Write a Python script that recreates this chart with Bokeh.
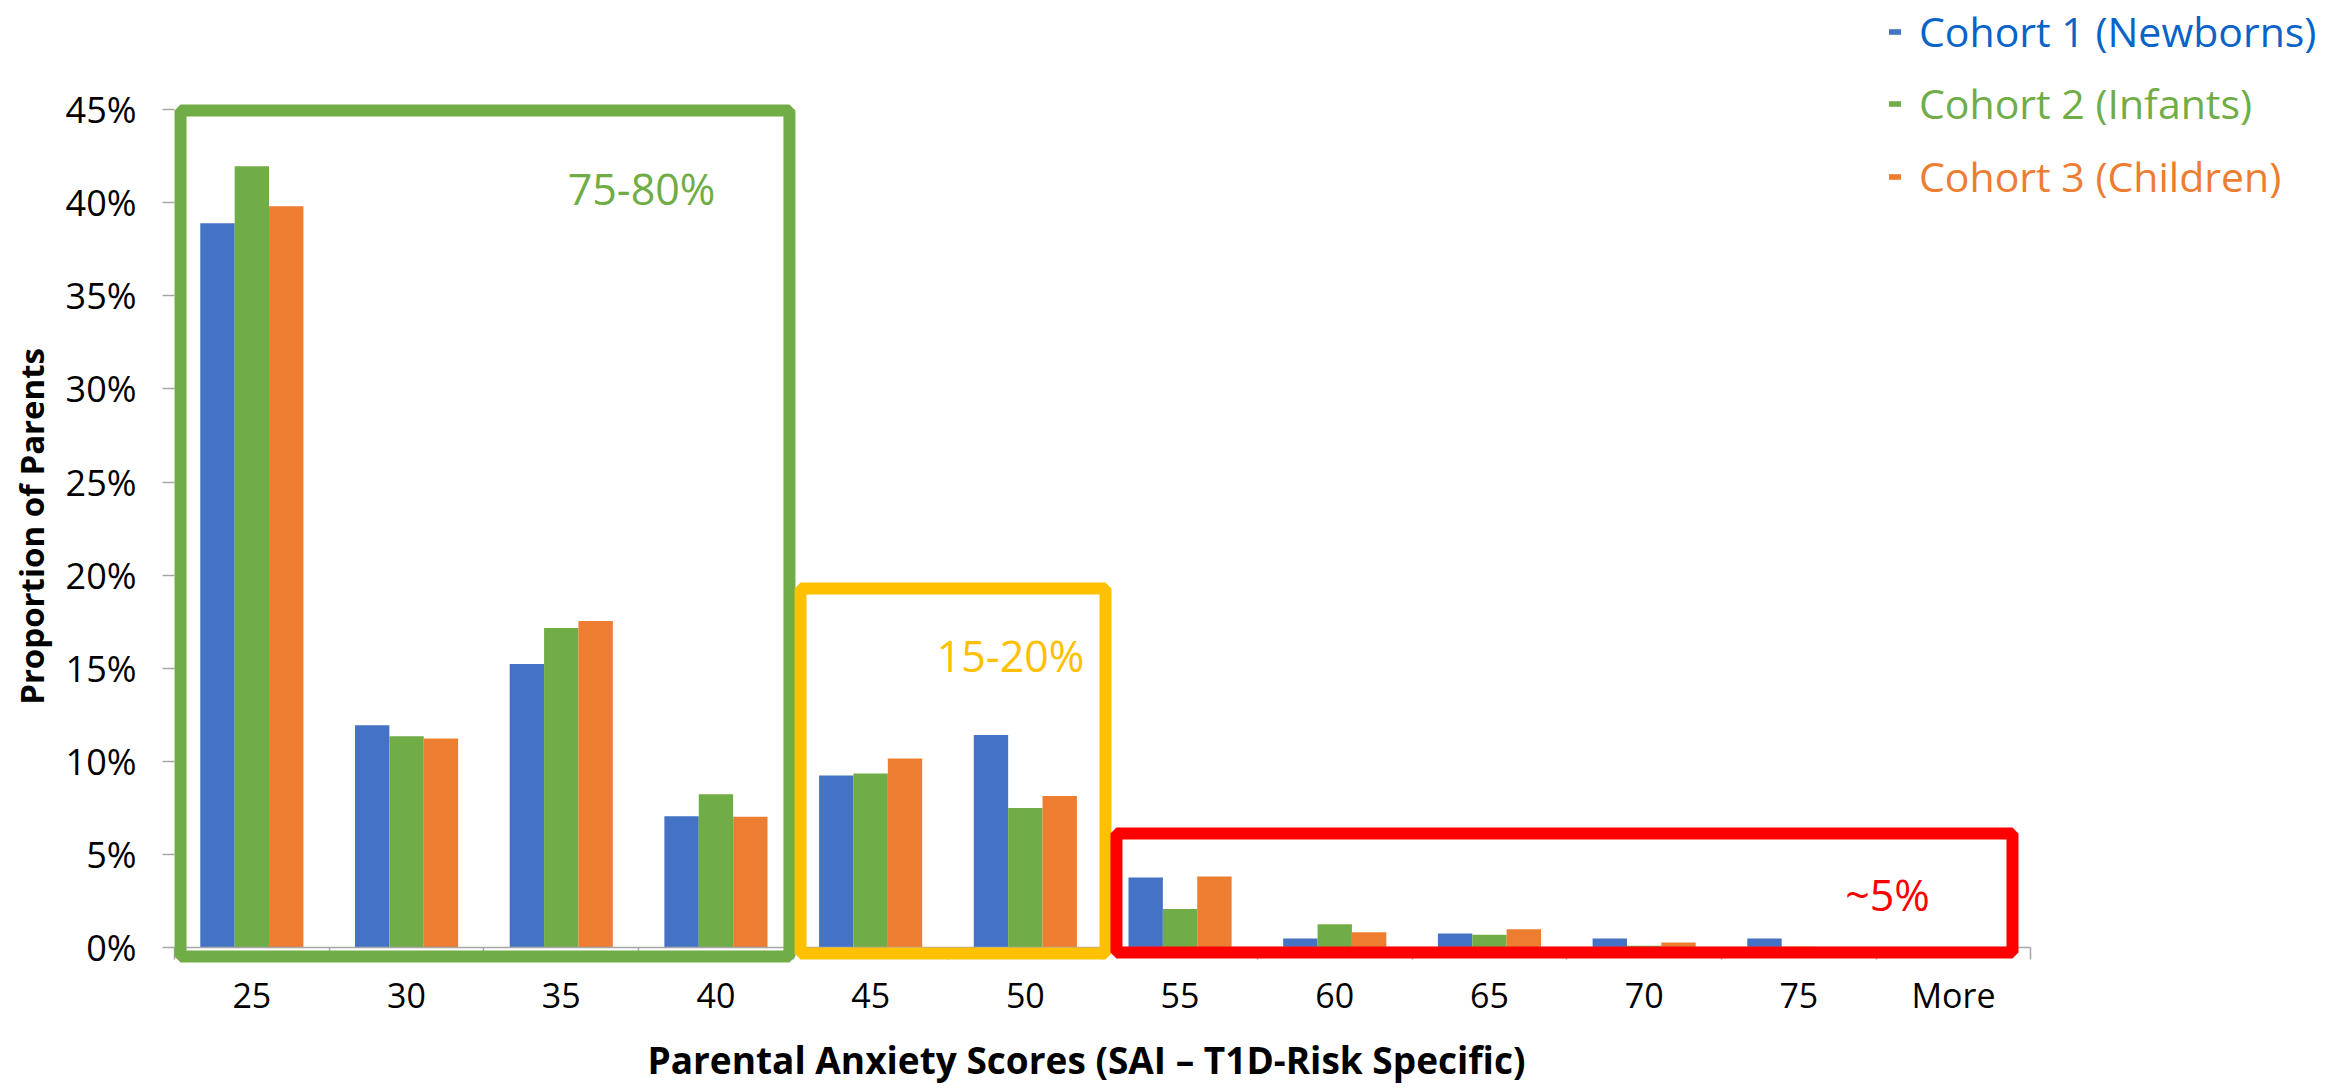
import math
from bokeh.plotting import figure
from bokeh.models import (Range1d, FixedTicker, NumeralTickFormatter, BoxAnnotation,
                          Label, Legend, LegendItem, ColumnDataSource)
from bokeh.transform import dodge
from bokeh.embed import file_html
from bokeh.resources import INLINE

# ---------------- data ----------------
categories = ["25", "30", "35", "40", "45", "50", "55", "60", "65", "70", "75", "More"]
cohort1 = [0.389, 0.1195, 0.1523, 0.0706, 0.0925, 0.1142, 0.0378, 0.0050, 0.0077, 0.0050, 0.0050, 0.0]
cohort2 = [0.4196, 0.1136, 0.1717, 0.0824, 0.0935, 0.0751, 0.0208, 0.0127, 0.0070, 0.0011, 0.0005, 0.0]
cohort3 = [0.3980, 0.1124, 0.1754, 0.0703, 0.1016, 0.0815, 0.0383, 0.0084, 0.0100, 0.0029, 0.0, 0.0]
series_names = ["Cohort 1 (Newborns)", "Cohort 2 (Infants)", "Cohort 3 (Children)"]
y_ticks = [0.0, 0.05, 0.10, 0.15, 0.20, 0.25, 0.30, 0.35, 0.40, 0.45]
zone_texts = ["75-80%", "15-20%", "~5%"]

# ---------------- layout / styles ----------------
W, H = 2343, 1088
AX_LEFT_PX, AX_ZERO_PX = 174.0, 947.3      # where the category axis starts / where 0% sits
CAT_PX, UNIT_PX = 154.7, 1862.9           # pixels per category, pixels per 100%
x_start = 0.5 - AX_LEFT_PX / CAT_PX
x_end = 0.5 + (W - AX_LEFT_PX) / CAT_PX
y_end = AX_ZERO_PX / UNIT_PX
y_start = -(H - AX_ZERO_PX) / UNIT_PX

bar_colors = ["#4472C4", "#70AD47", "#ED7D31"]
legend_text_colors = ["#0A64C8", "#70AD47", "#ED7D31"]
zone_colors = ["#70AD47", "#FFC000", "#FF0000"]
# zone frames: (x-start, x-end, y-bottom, y-top) in data units, and text anchors
zone_boxes = [(0.539, 4.475, -0.0047, 0.4494),
              (4.547, 6.518, -0.0031, 0.1929),
              (6.589, 12.381, -0.0025, 0.0614)]
zone_text_pos = [(3.519, 0.4076), (5.904, 0.1569), (11.573, 0.0285)]
FONT = "Open Sans"

positions = list(range(1, len(categories) + 1))
source = ColumnDataSource(dict(x=positions, c1=cohort1, c2=cohort2, c3=cohort3))

p = figure(width=W, height=H,
           x_range=Range1d(x_start, x_end), y_range=Range1d(y_start, y_end),
           output_backend="svg", toolbar_location=None, min_border=0)
p.outline_line_color = None
p.xgrid.visible = False
p.ygrid.visible = False
p.background_fill_color = "white"
p.border_fill_color = "white"

bw = 1.0 / 4.5
renderers = []
for k, (col, c) in enumerate(zip(["c1", "c2", "c3"], bar_colors)):
    r = p.vbar(x=dodge("x", (k - 1) * bw, range=p.x_range), top=col, width=bw,
               source=source, fill_color=c, line_color=None)
    renderers.append(r)

for txt, (x0, x1, y0, y1), zc, (lx, ly) in zip(zone_texts, zone_boxes, zone_colors, zone_text_pos):
    p.add_layout(BoxAnnotation(left=x0, right=x1, bottom=y0, top=y1,
                               fill_color=None, fill_alpha=0,
                               line_color=zc, line_width=12, line_alpha=1))
    p.add_layout(Label(x=lx, y=ly, text=txt, text_align="center", text_baseline="middle",
                       text_color=zc, text_font=FONT, text_font_size="43px"))

# ---------------- axes ----------------
xa = p.xaxis[0]
xa.fixed_location = 0
xa.bounds = (0.5, len(categories) + 0.5)
xa.ticker = FixedTicker(ticks=positions, minor_ticks=[i + 0.5 for i in range(len(categories) + 1)])
xa.major_label_overrides = {pos: cat for pos, cat in zip(positions, categories)}
xa.major_tick_line_color = None
xa.major_tick_out = 12
xa.major_tick_in = 0
xa.minor_tick_out = 12
xa.minor_tick_in = 0
xa.minor_tick_line_color = "#A6A6A6"
xa.minor_tick_line_width = 1.5
xa.axis_line_color = "#A6A6A6"
xa.axis_line_width = 1.5
xa.major_label_standoff = 12
xa.major_label_text_font = FONT
xa.major_label_text_font_size = "34px"
xa.major_label_text_color = "black"

ya = p.yaxis[0]
ya.fixed_location = 0.5
ya.bounds = (0, 0.45)
ya.ticker = FixedTicker(ticks=y_ticks)
ya.formatter = NumeralTickFormatter(format="0%")
ya.axis_line_color = None
ya.major_tick_out = 12
ya.major_tick_in = 0
ya.major_tick_line_color = "#A6A6A6"
ya.major_tick_line_width = 1.5
ya.minor_tick_line_color = None
ya.major_label_standoff = 26
ya.major_label_text_font = FONT
ya.major_label_text_font_size = "36px"
ya.major_label_text_color = "black"

# axis titles
p.add_layout(Label(x=6.395, y=-0.0600, text="Parental Anxiety Scores (SAI \u2013 T1D-Risk Specific)",
                   text_align="center", text_baseline="middle", text_font=FONT,
                   text_font_style="bold", text_font_size="37px", text_color="black"))
p.add_layout(Label(x=-0.4244, y=0.2262, text="Proportion of Parents", angle=math.pi / 2,
                   text_align="center", text_baseline="middle", text_font=FONT,
                   text_font_style="bold", text_font_size="33px", text_color="black"))

# ---------------- legend: one entry per cohort, each in its own colour ----------------
legend_y = [1029, 957, 884]
for r, name, tc, ly in zip(renderers, series_names, legend_text_colors, legend_y):
    lg = Legend(items=[LegendItem(label=name, renderers=[r])], location=(1887, ly),
                padding=0, margin=0, spacing=0, border_line_color=None,
                background_fill_alpha=0, label_standoff=17, glyph_width=15, glyph_height=7,
                label_text_font=FONT, label_text_font_size="41px", label_text_color=tc)
    p.add_layout(lg)

open("out.html", "w").write(file_html(p, INLINE))
